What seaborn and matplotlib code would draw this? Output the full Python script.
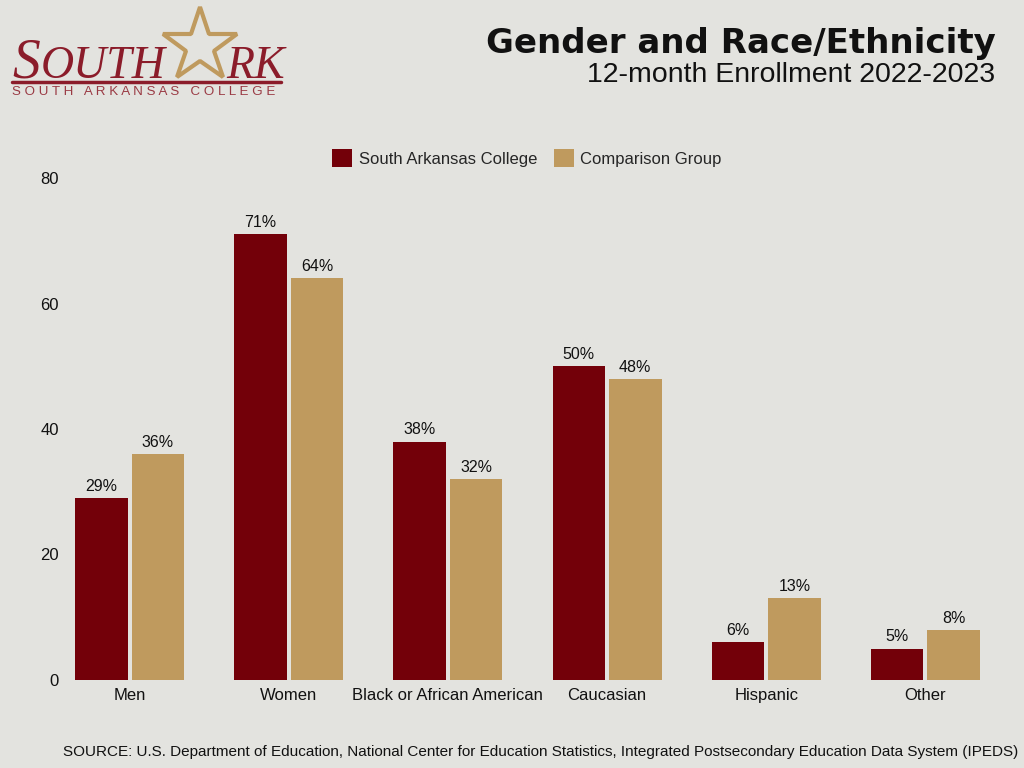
import matplotlib
matplotlib.use("Agg")
import matplotlib.pyplot as plt
import seaborn as sns
import pandas as pd

categories = ["Men", "Women", "Black or African American", "Caucasian", "Hispanic", "Other"]
series_names = ["South Arkansas College", "Comparison Group"]
sac_values = [29, 71, 38, 50, 6, 5]
comp_values = [36, 64, 32, 48, 13, 8]
y_ticks = [0, 20, 40, 60, 80]

BG = "#E3E3DF"
RED = "#730009"
TAN = "#BF9A5E"

df = pd.DataFrame({
    "category": categories * 2,
    "group": [series_names[0]] * len(categories) + [series_names[1]] * len(categories),
    "value": sac_values + comp_values,
})

sns.set_theme(style="white")
plt.rcParams["font.family"] = ["Liberation Sans", "DejaVu Sans"]

fig = plt.figure(figsize=(10.24, 7.68), dpi=100, facecolor=BG)
ax = fig.add_axes([70 / 1024, 88 / 768, 915 / 1024, 502 / 768])
ax.set_facecolor(BG)

sns.barplot(data=df, x="category", y="value", hue="group", order=categories,
            hue_order=series_names, palette=[RED, TAN], width=0.71, gap=0.07,
            saturation=1, linewidth=0, ax=ax, legend=True)

for container in ax.containers:
    ax.bar_label(container, labels=[f"{int(v)}%" for v in container.datavalues],
                 padding=3, fontsize=11.5, color="#111111")

ax.set_xlim(-0.375, 5.375)
ax.set_ylim(0, 80)
ax.set_yticks(y_ticks)
ax.set_yticklabels([str(t) for t in y_ticks])
ax.set_xlabel("")
ax.set_ylabel("")
ax.tick_params(axis="both", length=0, labelsize=12, colors="#111111")
ax.tick_params(axis="y", pad=8)
ax.tick_params(axis="x", pad=6)
for s in ax.spines.values():
    s.set_visible(False)
ax.grid(False)

leg = ax.legend(loc="center", bbox_to_anchor=(527 / 1024, 1 - 158 / 768),
                bbox_transform=fig.transFigure, ncol=2, frameon=False,
                fontsize=12, handlelength=1.2, handleheight=1.2,
                handletextpad=0.4, columnspacing=1.0)

# Title
fig.text(996 / 1024, 1 - 43 / 768, "Gender and Race/Ethnicity", ha="right", va="center",
         fontsize=24.5, fontweight="bold", family=["DejaVu Sans"], color="#111111")
fig.text(995 / 1024, 1 - 75 / 768, "12-month Enrollment 2022-2023", ha="right", va="center",
         fontsize=20.5, color="#111111")

# Logo
LOGO_RED = "#8B1C2A"
fig.add_artist(plt.Line2D([200 / 1024], [1 - 46 / 768], marker="*", markersize=56,
                          markerfacecolor="none", markeredgecolor=TAN, markeredgewidth=3,
                          linestyle="none", transform=fig.transFigure, zorder=1))
fig.text(12 / 1024, 1 - 78 / 768, "S", ha="left", va="baseline", fontsize=40,
         family=["Liberation Serif"], style="italic", color=LOGO_RED, zorder=3)
fig.text(41 / 1024, 1 - 78 / 768, "OUTH", ha="left", va="baseline", fontsize=33,
         family=["Liberation Serif"], style="italic", color=LOGO_RED, zorder=3)
fig.text(226 / 1024, 1 - 78 / 768, "RK", ha="left", va="baseline", fontsize=33,
         family=["Liberation Serif"], style="italic", color=LOGO_RED, zorder=3)
fig.add_artist(plt.Line2D([12 / 1024, 281 / 1024], [1 - 82 / 768, 1 - 82 / 768],
                          color=LOGO_RED, lw=2.5, transform=fig.transFigure, zorder=2))
fig.text(12 / 1024, 1 - 92 / 768, "S O U T H   A R K A N S A S   C O L L E G E",
         ha="left", va="center", fontsize=9.6, color="#9A3A44")

# Source
fig.text(1018 / 1024, 1 - 752 / 768,
         "SOURCE: U.S. Department of Education, National Center for Education Statistics, "
         "Integrated Postsecondary Education Data System (IPEDS)",
         ha="right", va="center", fontsize=11,
         family=["Liberation Sans Narrow", "Liberation Sans"], color="#111111")

fig.savefig("out.png", dpi=100, facecolor=BG)
